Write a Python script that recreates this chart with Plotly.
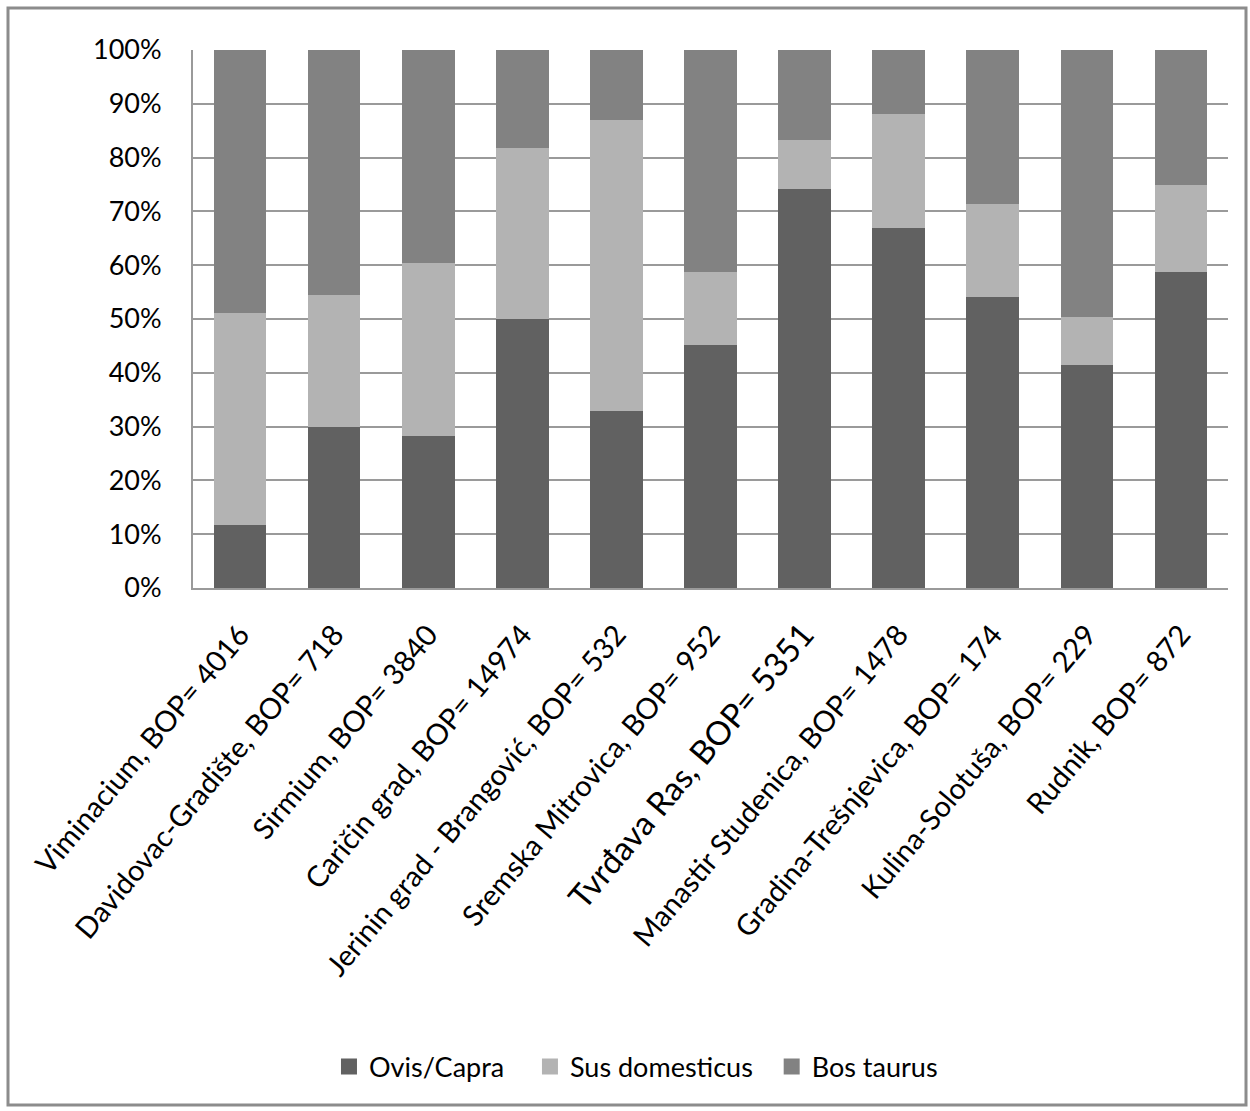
import plotly.graph_objects as go

# Sites with bone sample size (BOP)
sites = [
    "Viminacium, BOP= 4016",
    "Davidovac-Gradište, BOP= 718",
    "Sirmium, BOP= 3840",
    "Caričin grad, BOP= 14974",
    "Jerinin grad - Brangović, BOP= 532",
    "Sremska Mitrovica, BOP= 952",
    "Tvrđava Ras, BOP= 5351",
    "Manastir Studenica, BOP= 1478",
    "Gradina-Trešnjevica, BOP= 174",
    "Kulina-Solotuša, BOP= 229",
    "Rudnik, BOP= 872",
]

# Share of each taxon per site (%)
ovis_capra = [11.7, 30.0, 28.2, 50.0, 32.9, 45.2, 74.2, 66.9, 54.1, 41.5, 58.7]
sus_domesticus = [39.5, 24.4, 32.2, 31.8, 54.0, 13.5, 9.1, 21.2, 17.3, 8.8, 16.2]
bos_taurus = [48.8, 45.6, 39.6, 18.2, 13.1, 41.3, 16.7, 11.9, 28.6, 49.7, 25.1]

y_ticks = [0, 10, 20, 30, 40, 50, 60, 70, 80, 90, 100]
y_tick_text = [f"{v}%" for v in y_ticks]

FONT = "Lato"
W, H = 1250, 1111
L, R, T, B = 193, 22, 50, 523
pw, ph = W - L - R, H - T - B

# Tvrđava Ras label is set in a slightly larger face
tick_text = []
for s in sites:
    if s.startswith("Tvrđava"):
        tick_text.append(f'<span style="font-size:33px">{s}</span>')
    else:
        tick_text.append(s)

NBSP = "\u00a0"
series = [
    ("Ovis/Capra", NBSP * 3, ovis_capra, "#616161"),
    ("Sus domesticus", NBSP * 2, sus_domesticus, "#b3b3b3"),
    ("Bos taurus", "", bos_taurus, "#828282"),
]

fig = go.Figure()
for name, pad, vals, col in series:
    fig.add_trace(go.Bar(
        x=sites, y=vals, name=name, showlegend=False,
        marker=dict(color=col, line=dict(width=0)),
    ))
# legend keys: square swatches
for name, pad, vals, col in series:
    fig.add_trace(go.Scatter(
        x=[None], y=[None], mode="markers", name=name + pad,
        marker=dict(symbol="square", size=16, color=col),
        showlegend=True,
    ))


def px_x(p):
    return (p - L) / pw


def px_y(p):
    return (H - B - p) / ph


fig.update_layout(
    width=W, height=H,
    barmode="stack",
    bargap=0.44,
    paper_bgcolor="white",
    plot_bgcolor="white",
    margin=dict(l=L, r=R, t=T, b=B),
    font=dict(family=FONT, size=27, color="#000000"),
    showlegend=True,
    legend=dict(
        orientation="h",
        x=0.428, xanchor="center",
        y=px_y(1067), yanchor="middle",
        font=dict(size=27, family=FONT),
        itemwidth=30,
        traceorder="normal",
    ),
    shapes=[
        dict(type="rect", xref="paper", yref="paper",
             x0=px_x(8), x1=px_x(1246), y0=px_y(1105), y1=px_y(8),
             line=dict(color="#8c8c8c", width=3), fillcolor="rgba(0,0,0,0)",
             layer="below"),
    ],
)

fig.update_xaxes(
    tickmode="array", tickvals=sites, ticktext=tick_text,
    tickangle=-50,
    tickfont=dict(size=29, family=FONT),
    showline=True, linecolor="#9a9a9a", linewidth=2,
    showgrid=False, ticks="", ticklabelstandoff=16,
)
fig.update_yaxes(
    range=[0, 100],
    tickmode="array", tickvals=y_ticks, ticktext=y_tick_text,
    tickfont=dict(size=27, family=FONT),
    showline=True, linecolor="#9a9a9a", linewidth=2,
    showgrid=True, gridcolor="#9a9a9a", gridwidth=2,
    ticks="", ticklabelstandoff=24,
    zeroline=False,
)

fig.write_html("out.html")
